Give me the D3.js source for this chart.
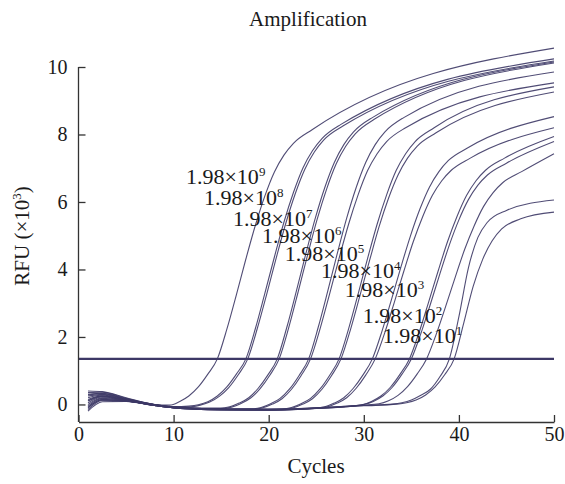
<!DOCTYPE html>
<html>
<head>
<meta charset="utf-8">
<script src="https://cdn.jsdelivr.net/npm/d3@7"></script>
<style>
  html, body { margin: 0; padding: 0; background: #ffffff; }
  svg { display: block; }
  text { font-family: "Liberation Serif", "Times New Roman", serif; fill: #1a1a1a; }
</style>
</head>
<body>
<svg id="chart" width="565" height="484"></svg>
<script>
// ---------- data ----------
const xTicks = [0, 10, 20, 30, 40, 50];
const yTicks = [0, 2, 4, 6, 8, 10];
const threshold = 1.35;

// [cycle, RFU (x10^3)]
const curve01 = [[1,0.40],[2.5,0.38],[5,0.20],[8,0.0],[9.6,-0.02],[10.6,0.08],[11.6,0.25],[12.6,0.52],[13.6,0.90],[14.6,1.35],[15.6,2.23],[16.6,3.25],[17.6,4.31],[18.6,5.31],[19.6,6.18],[20.6,6.89],[21.6,7.39],[22.6,7.74],[24.6,8.15],[50,10.56]];
const curve02 = [[1,0.35],[2.5,0.36],[5,0.18],[8,0.0],[10,-0.07],[11.6,-0.05],[12.6,-0.01],[13.6,0.08],[14.6,0.25],[15.6,0.52],[16.6,0.90],[17.6,1.35],[18.6,2.25],[19.6,3.30],[20.6,4.37],[21.6,5.40],[22.6,6.28],[23.6,7.01],[24.6,7.52],[25.6,7.88],[27.6,8.30],[50,10.24]];
const curve03 = [[1,0.30],[2.5,0.33],[5,0.17],[8,-0.01],[10,-0.08],[11.8,-0.07],[12.8,-0.02],[13.8,0.07],[14.8,0.24],[15.8,0.50],[16.8,0.88],[17.8,1.35],[18.8,2.25],[19.8,3.28],[20.8,4.35],[21.8,5.37],[22.8,6.25],[23.8,6.97],[24.8,7.48],[25.8,7.84],[27.8,8.25],[50,10.18]];
const curve04 = [[1,0.25],[2.5,0.30],[5,0.16],[8,-0.01],[10,-0.07],[13,-0.11],[14.9,-0.11],[15.9,-0.07],[16.9,0.04],[17.9,0.20],[18.9,0.48],[19.9,0.87],[20.9,1.35],[21.9,2.28],[22.9,3.35],[23.9,4.46],[24.9,5.52],[25.9,6.43],[26.9,7.17],[27.9,7.70],[28.9,8.07],[30.9,8.50],[50,10.15]];
const curve05 = [[1,0.20],[2.5,0.28],[5,0.15],[8,0.0],[10,-0.08],[13,-0.12],[15.1,-0.12],[16.1,-0.08],[17.1,0.03],[18.1,0.19],[19.1,0.47],[20.1,0.86],[21.1,1.35],[22.1,2.27],[23.1,3.34],[24.1,4.44],[25.1,5.49],[26.1,6.39],[27.1,7.13],[28.1,7.65],[29.1,8.02],[31.1,8.45],[50,10.12]];
const curve06 = [[1,0.15],[2.5,0.26],[5,0.14],[8,-0.02],[10,-0.08],[14,-0.13],[18.2,-0.13],[19.2,-0.09],[20.2,0.02],[21.2,0.18],[22.2,0.46],[23.2,0.86],[24.2,1.35],[25.2,2.28],[26.2,3.35],[27.2,4.46],[28.2,5.52],[29.2,6.43],[30.2,7.17],[31.2,7.70],[32.2,8.07],[34.2,8.50],[50,9.85]];
const curve07 = [[1,0.10],[2.5,0.24],[5,0.13],[8,-0.02],[10,-0.09],[14,-0.14],[18.4,-0.14],[19.4,-0.10],[20.4,0.01],[21.4,0.17],[22.4,0.45],[23.4,0.85],[24.4,1.35],[25.4,2.24],[26.4,3.27],[27.4,4.33],[28.4,5.34],[29.4,6.21],[30.4,6.93],[31.4,7.43],[32.4,7.79],[34.4,8.20],[50,9.53]];
const curve08 = [[1,0.05],[2.5,0.22],[5,0.12],[8,-0.03],[10,-0.09],[15,-0.14],[21.4,-0.13],[22.4,-0.09],[23.4,0.02],[24.4,0.18],[25.4,0.46],[26.4,0.86],[27.4,1.35],[28.4,2.24],[29.4,3.27],[30.4,4.33],[31.4,5.34],[32.4,6.21],[33.4,6.93],[34.4,7.43],[35.4,7.79],[37.4,8.20],[50,9.41]];
const curve09 = [[1,0.0],[2.5,0.20],[5,0.12],[8,-0.03],[10,-0.10],[15,-0.15],[21.6,-0.14],[22.6,-0.10],[23.6,0.01],[24.6,0.17],[25.6,0.45],[26.6,0.85],[27.6,1.35],[28.6,2.22],[29.6,3.23],[30.6,4.26],[31.6,5.26],[32.6,6.11],[33.6,6.80],[34.6,7.30],[35.6,7.65],[37.6,8.05],[50,9.26]];
const curve10 = [[1,-0.05],[2.5,0.18],[5,0.11],[8,-0.02],[10,-0.09],[15,-0.15],[20,-0.16],[24.9,-0.11],[25.9,-0.07],[26.9,0.04],[27.9,0.20],[28.9,0.48],[29.9,0.87],[30.9,1.35],[31.9,2.16],[32.9,3.10],[33.9,4.07],[34.9,4.99],[35.9,5.79],[36.9,6.44],[37.9,6.90],[38.9,7.23],[40.9,7.60],[50,8.53]];
const curve11 = [[1,-0.10],[2.5,0.15],[5,0.10],[8,-0.03],[10,-0.10],[15,-0.16],[20,-0.17],[25.2,-0.11],[26.2,-0.07],[27.2,0.04],[28.2,0.20],[29.2,0.48],[30.2,0.87],[31.2,1.35],[32.2,2.12],[33.2,3.02],[34.2,3.94],[35.2,4.82],[36.2,5.57],[37.2,6.19],[38.2,6.63],[39.2,6.94],[41.2,7.30],[50,8.20]];
const curve12 = [[1,-0.15],[2.5,0.12],[5,0.10],[8,-0.03],[10,-0.10],[15,-0.16],[20,-0.17],[25,-0.12],[28.8,-0.05],[29.8,-0.01],[30.8,0.09],[31.8,0.25],[32.8,0.51],[33.8,0.89],[34.8,1.35],[35.8,2.12],[36.8,3.02],[37.8,3.94],[38.8,4.82],[39.8,5.57],[40.8,6.19],[41.8,6.63],[42.8,6.94],[44.8,7.30],[50,7.94]];
const curve13 = [[1,-0.20],[2.5,0.08],[5,0.09],[8,-0.02],[10,-0.09],[15,-0.15],[20,-0.16],[25,-0.11],[29,-0.04],[30,0.0],[31,0.09],[32,0.25],[33,0.51],[34,0.89],[35,1.35],[36,2.10],[37,2.97],[38,3.87],[39,4.73],[40,5.47],[41,6.07],[42,6.50],[43,6.80],[45,7.15],[50,7.79]];
const curve14 = [[1,0.28],[2.5,0.32],[5,0.16],[8,-0.01],[10,-0.08],[15,-0.14],[20,-0.15],[25,-0.10],[30,-0.02],[31.6,0.02],[32.6,0.11],[33.6,0.27],[34.6,0.53],[35.6,0.90],[36.6,1.35],[37.6,2.07],[38.6,2.90],[39.6,3.76],[40.6,4.59],[41.6,5.29],[42.6,5.87],[43.6,6.28],[44.6,6.57],[46.6,6.90],[50,7.43]];
const curve15 = [[1,0.12],[2.5,0.25],[5,0.13],[8,-0.02],[10,-0.08],[15,-0.14],[20,-0.15],[25,-0.10],[30,-0.03],[33,0.01],[34,0.05],[35,0.13],[36,0.27],[37,0.45],[38,0.82],[39,1.35],[40,2.60],[41,4.05],[42,4.95],[43,5.40],[45,5.75],[50,6.06]];
const curve16 = [[1,-0.08],[2.5,0.14],[5,0.10],[8,-0.03],[10,-0.10],[15,-0.16],[20,-0.17],[25,-0.12],[30,-0.04],[33.5,0.01],[34.5,0.05],[35.5,0.13],[36.5,0.28],[37.5,0.52],[38.5,0.88],[39.5,1.35],[40.5,2.40],[41.5,3.50],[42.5,4.30],[43.5,4.85],[44.5,5.20],[46.5,5.50],[50,5.70]];

const curves = [curve01, curve02, curve03, curve04, curve05, curve06, curve07, curve08,
                curve09, curve10, curve11, curve12, curve13, curve14, curve15, curve16];

// dilution labels
const labelBase = "1.98×10";
const labelExponents = ["9", "8", "7", "6", "5", "4", "3", "2", "1"];

// ---------- layout ----------
// label anchors in data units (cycle, RFU): left end / baseline of each label
const labelAnchors = [[11.3,6.53],[13.2,5.91],[16.25,5.29],[19.3,4.79],[21.7,4.25],[25.5,3.75],[28.0,3.19],[29.9,2.41],[32.0,1.82]];

const svg = d3.select("#chart");
const x = d3.scaleLinear().domain([0, 50]).range([78.5, 554]);
const y = d3.scaleLinear().domain([-0.52, 10]).range([422, 67]);

const curveColor = "#3d3866";

// curves
const line = d3.line()
  .x(d => x(d[0]))
  .y(d => y(d[1]))
  .curve(d3.curveMonotoneX);

svg.append("g")
  .selectAll("path")
  .data(curves)
  .join("path")
  .attr("d", line)
  .attr("fill", "none")
  .attr("stroke", curveColor)
  .attr("stroke-width", 1.1)
  .attr("stroke-opacity", 0.9);

// threshold line
svg.append("line")
  .attr("x1", x(0)).attr("x2", x(50))
  .attr("y1", y(threshold)).attr("y2", y(threshold))
  .attr("stroke", curveColor)
  .attr("stroke-width", 2.2);

// axes
const xAxis = d3.axisBottom(x).tickValues(xTicks).tickSizeInner(-7).tickSizeOuter(0).tickPadding(5);
const yAxis = d3.axisLeft(y).tickValues(yTicks).tickSizeInner(-7).tickSizeOuter(0).tickPadding(11);

const gx = svg.append("g").attr("transform", `translate(0,${y(-0.52)})`).call(xAxis);
const gy = svg.append("g").attr("transform", `translate(${x(0)},0)`).call(yAxis);
// y axis domain only up to 10
gy.select(".domain").attr("d", `M0,${y(10)}V${y(-0.52)}`);

[gx, gy].forEach(g => {
  g.select(".domain").attr("stroke", "#333").attr("stroke-width", 1.3);
  g.selectAll(".tick line").attr("stroke", "#333").attr("stroke-width", 1.3);
  g.selectAll(".tick text")
    .attr("font-family", "Liberation Serif, Times New Roman, serif")
    .attr("font-size", 20)
    .attr("fill", "#1a1a1a");
});

// title
svg.append("text")
  .attr("x", 308).attr("y", 26)
  .attr("text-anchor", "middle")
  .attr("font-size", 21)
  .text("Amplification");

// x axis title
svg.append("text")
  .attr("x", 316).attr("y", 473)
  .attr("text-anchor", "middle")
  .attr("font-size", 21)
  .text("Cycles");

// y axis title
const yt = svg.append("text")
  .attr("transform", "translate(29,236) rotate(-90)")
  .attr("text-anchor", "middle")
  .attr("font-size", 21);
yt.append("tspan").text("RFU (×10");
yt.append("tspan").attr("font-size", 13).attr("dy", -8).text("3");
yt.append("tspan").attr("dy", 8).text(")");

// dilution labels
labelExponents.forEach((e, i) => {
  const a = labelAnchors[i];
  const t = svg.append("text")
    .attr("x", x(a[0])).attr("y", y(a[1]))
    .attr("font-size", 22);
  t.append("tspan").text(labelBase);
  t.append("tspan").attr("font-size", 13).attr("dy", -8).text(e);
});
</script>
</body>
</html>
